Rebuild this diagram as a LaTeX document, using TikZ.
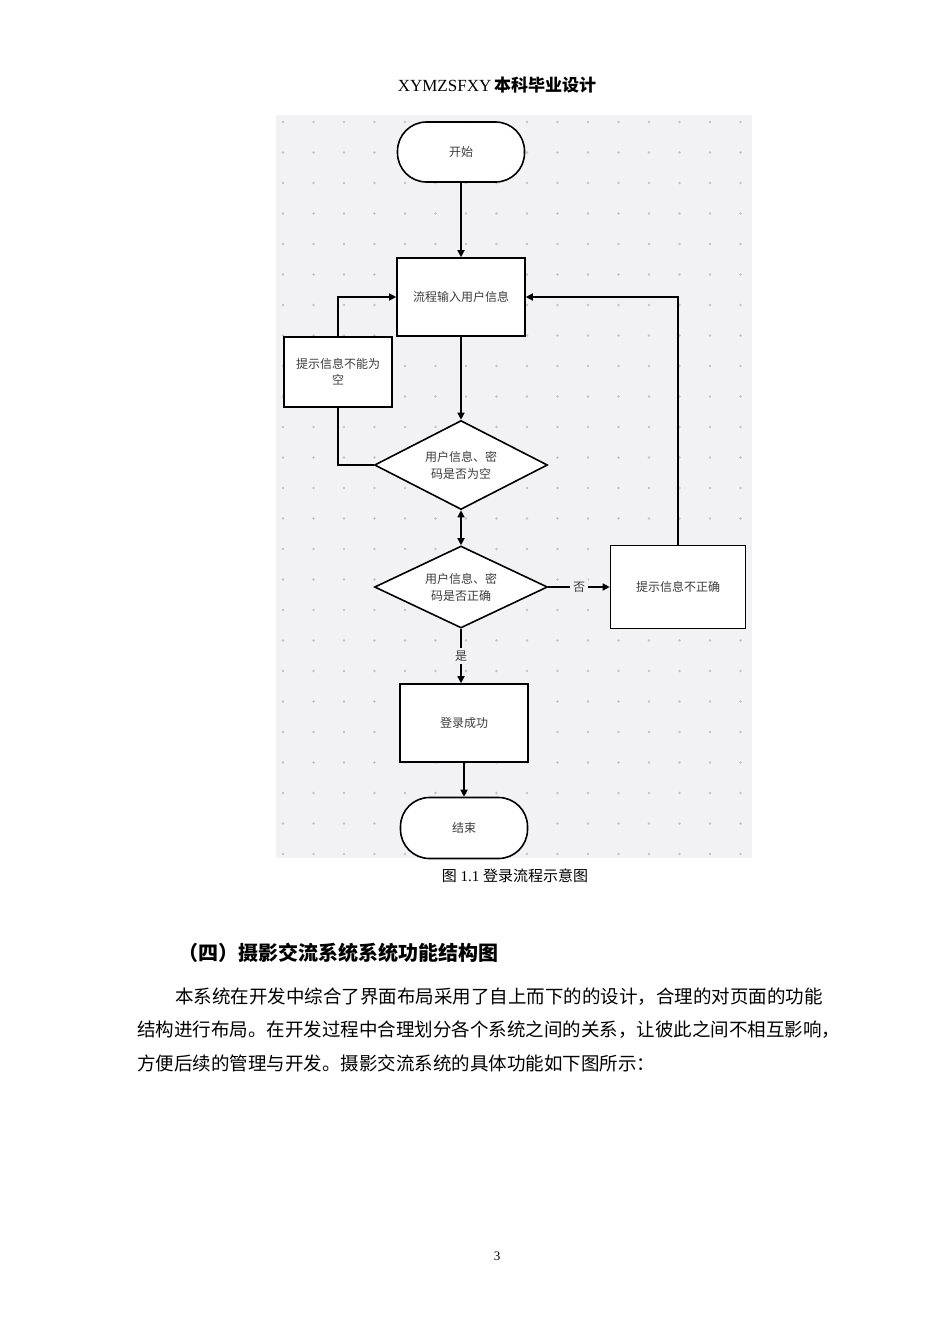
\documentclass[tikz,border=0pt]{standalone}
\usepackage{fontspec}
\setmainfont{Liberation Serif}
\newfontfamily\cjk{Noto Sans CJK SC}
\usetikzlibrary{shapes.geometric, arrows.meta, positioning, calc}
\definecolor{canvas}{RGB}{242,242,244}
\definecolor{griddot}{RGB}{195,195,200}
\definecolor{inkgrey}{RGB}{60,60,60}

\begin{document}
\begin{tikzpicture}[x=1pt, y=-1pt,
    box/.style={rectangle, draw, line width=1.6pt, fill=white, font=\cjk\fontsize{12}{16}\selectfont, text=inkgrey, align=center, inner sep=0pt},
    pill/.style={box, rounded corners=29pt},
    decide/.style={diamond, draw, line width=1.6pt, fill=white, font=\cjk\fontsize{12}{17}\selectfont, text=inkgrey, align=center, inner sep=0pt, aspect=2},
    arrow/.style={-{Triangle[length=7pt, width=7pt]}, line width=1.4pt},
    bodytext/.style={anchor=west, font=\cjk\fontsize{18.5}{20}\selectfont, inner sep=0pt}
]
\useasboundingbox (0,0) rectangle (950,1344);
\fill[white] (0,0) rectangle (950,1344);

% Header
\node (head) at (497,85) {\fontsize{17}{20}\selectfont XYMZSFXY\,{\cjk\bfseries 本科毕业设计}};

% Canvas with dots
\fill[canvas] (276,115) rectangle (752,858);
\foreach \i in {0,...,15} {
  \foreach \j in {0,...,24} {
    \fill[griddot] (283+\i*30.5,122+\j*30.5) circle (1.4pt);
  }
}

% Nodes
\node[pill, minimum width=127pt, minimum height=60pt] (start) at (461,152) {开始};
\node[box, minimum width=128pt, minimum height=78pt] (input) at (461,297) {流程输入用户信息};
\node[box, minimum width=108pt, minimum height=70pt] (empty) at (338,372) {提示信息不能为\\空};
\node[decide, minimum width=173pt, minimum height=89pt] (chkempty) at (461,465) {用户信息、密\\码是否为空};
\node[decide, minimum width=173pt, minimum height=82pt] (chkright) at (461,587) {用户信息、密\\码是否正确};
\node[box, minimum width=135pt, minimum height=83pt] (wrong) at (678,587) {提示信息不正确};
\node[box, minimum width=128pt, minimum height=78pt] (ok) at (464,723) {登录成功};
\node[pill, minimum width=127pt, minimum height=61pt] (finish) at (464,828) {结束};

% Arrows
\draw[arrow] (start) -- (input);
\draw[arrow] (input) -- (chkempty);
\draw[line width=1.4pt] (chkempty.west) -| (empty.south);
\draw[arrow] (empty.north) |- (input.west);
\draw[{Triangle[length=7pt, width=7pt]}-{Triangle[length=7pt, width=7pt]}, line width=1.4pt] (chkempty.south) -- (chkright.north);
\draw[arrow] (chkright.east) -- node[fill=canvas, font=\cjk\fontsize{12}{14}\selectfont, text=inkgrey, inner sep=3pt] {否} (wrong.west);
\draw[arrow] (wrong.north) |- (input.east);
\draw[arrow] (chkright.south) -- node[fill=canvas, font=\cjk\fontsize{12}{14}\selectfont, text=inkgrey, inner sep=3pt] {是} (ok.north -| chkright.south);
\draw[arrow] (ok) -- (finish);

% Caption and text
\node (cap) at (515,876) {\fontsize{15}{18}\selectfont {\cjk 图} 1.1 {\cjk 登录流程示意图}};
\node[anchor=west, font=\cjk\bfseries\fontsize{20}{24}\selectfont, inner sep=0pt] (title) at (178,953) {（四）摄影交流系统系统功能结构图};
\node[bodytext] (line1) at (175,997) {本系统在开发中综合了界面布局采用了自上而下的的设计，合理的对页面的功能};
\node[bodytext] (line2) at (137,1030) {结构进行布局。在开发过程中合理划分各个系统之间的关系，让彼此之间不相互影响，};
\node[bodytext] (line3) at (137,1063) {方便后续的管理与开发。摄影交流系统的具体功能如下图所示：};
\node (page) at (497,1256) {\fontsize{13}{15}\selectfont 3};
\end{tikzpicture}
\end{document}
